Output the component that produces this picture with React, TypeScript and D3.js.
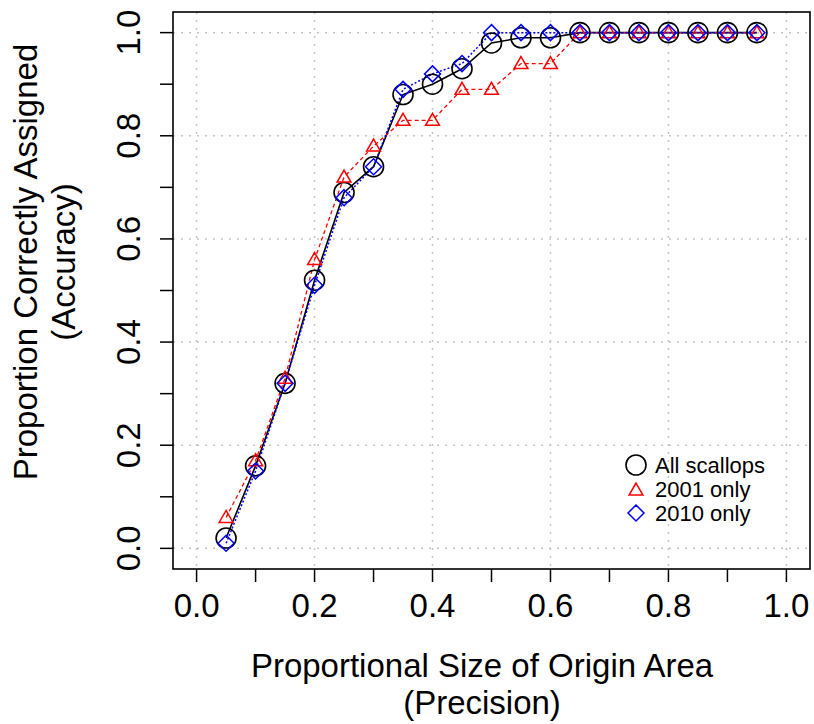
import React from 'react';
import * as d3 from 'd3';

const precision = [0.05, 0.1, 0.15, 0.2, 0.25, 0.3, 0.35, 0.4, 0.45, 0.5, 0.55, 0.6, 0.65, 0.7, 0.75, 0.8, 0.85, 0.9, 0.95];
const allScallops = [0.02, 0.16, 0.32, 0.52, 0.69, 0.74, 0.88, 0.9, 0.93, 0.98, 0.99, 0.99, 1, 1, 1, 1, 1, 1, 1];
const only2001 = [0.06, 0.17, 0.33, 0.56, 0.72, 0.78, 0.83, 0.83, 0.89, 0.89, 0.94, 0.94, 1, 1, 1, 1, 1, 1, 1];
const only2010 = [0.01, 0.15, 0.32, 0.51, 0.68, 0.74, 0.89, 0.92, 0.94, 1, 1, 1, 1, 1, 1, 1, 1, 1, 1];

const tickValues = [0, 0.1, 0.2, 0.3, 0.4, 0.5, 0.6, 0.7, 0.8, 0.9, 1.0];
const labelValues = [0, 0.2, 0.4, 0.6, 0.8, 1.0];
const legendLabels = ['All scallops', '2001 only', '2010 only'];

const FONT = '"Liberation Sans", Arial, Helvetica, sans-serif';

const triPath = (r: number) => {
  const h = (r * Math.sqrt(3)) / 2;
  return `M0,${-r}L${h},${r / 2}L${-h},${r / 2}Z`;
};
const diaPath = (r: number) => `M0,${-r}L${r},0L0,${r}L${-r},0Z`;

export default function App() {
  const W = 814;
  const H = 724;
  const left = 173, right = 810, top = 12, bottom = 569;

  const x = d3.scaleLinear().domain([-0.04, 1.04]).range([left, right]);
  const y = d3.scaleLinear().domain([-0.04, 1.04]).range([bottom, top]);

  const mk = (vals: number[]) =>
    d3.line<number>().x((_, i) => x(precision[i])).y((v) => y(v))(vals) || '';

  const series = [
    { vals: allScallops, color: '#000000', dash: undefined, width: 1.6 },
    { vals: only2001, color: '#ff0000', dash: '4,3', width: 1.3 },
    { vals: only2010, color: '#0000ff', dash: '2,2', width: 1.5 },
  ];

  return (
    <svg width={W} height={H} style={{ position: 'absolute', left: 0, top: 0, background: '#fff' }} fontFamily={FONT}>
      <rect x={0} y={0} width={W} height={H} fill="#fff" />

      {/* grid */}
      {labelValues.map((v) => (
        <g key={'g' + v}>
          <line x1={x(v)} x2={x(v)} y1={top} y2={bottom} stroke="#c4c4c4" strokeWidth={1.5} strokeDasharray="2,6" />
          <line x1={left} x2={right} y1={y(v)} y2={y(v)} stroke="#c4c4c4" strokeWidth={1.5} strokeDasharray="2,6" />
        </g>
      ))}

      {/* lines and points */}
      {series.map((s, k) => (
        <path key={'l' + k} d={mk(s.vals)} fill="none" stroke={s.color} strokeWidth={s.width} strokeDasharray={s.dash} />
      ))}
      {allScallops.map((v, i) => (
        <circle key={'c' + i} cx={x(precision[i])} cy={y(v)} r={10} fill="none" stroke="#000" strokeWidth={1.6} />
      ))}
      {only2001.map((v, i) => (
        <path key={'t' + i} transform={`translate(${x(precision[i])},${y(v) + 1})`} d={triPath(8)} fill="none" stroke="#ff0000" strokeWidth={1.5} />
      ))}
      {only2010.map((v, i) => (
        <path key={'d' + i} transform={`translate(${x(precision[i])},${y(v)})`} d={diaPath(8)} fill="none" stroke="#0000ff" strokeWidth={1.5} />
      ))}

      {/* box */}
      <rect x={left} y={top} width={right - left} height={bottom - top} fill="none" stroke="#000" strokeWidth={1.6} />

      {/* x axis */}
      {tickValues.map((v) => (
        <line key={'xt' + v} x1={x(v)} x2={x(v)} y1={bottom} y2={bottom + 13} stroke="#000" strokeWidth={1.5} />
      ))}
      {labelValues.map((v) => (
        <text key={'xl' + v} x={x(v)} y={617} fontSize={33} textAnchor="middle" fill="#000">
          {d3.format('.1f')(v)}
        </text>
      ))}
      <text x={482} y={677} fontSize={33} textAnchor="middle" fill="#000">Proportional Size of Origin Area</text>
      <text x={482} y={714} fontSize={33} textAnchor="middle" fill="#000">(Precision)</text>

      {/* y axis */}
      {tickValues.map((v) => (
        <line key={'yt' + v} x1={left - 13} x2={left} y1={y(v)} y2={y(v)} stroke="#000" strokeWidth={1.5} />
      ))}
      {labelValues.map((v) => (
        <text key={'yl' + v} transform={`translate(140,${y(v)}) rotate(-90)`} fontSize={33} textAnchor="middle" fill="#000">
          {d3.format('.1f')(v)}
        </text>
      ))}
      <text transform="translate(37,262) rotate(-90)" fontSize={33} textAnchor="middle" fill="#000">Proportion Correctly Assigned</text>
      <text transform="translate(75,262) rotate(-90)" fontSize={33} textAnchor="middle" fill="#000">(Accuracy)</text>

      {/* legend */}
      <g>
        <circle cx={636} cy={465} r={10} fill="none" stroke="#000" strokeWidth={1.6} />
        <path transform="translate(636,491)" d={triPath(8)} fill="none" stroke="#ff0000" strokeWidth={1.5} />
        <path transform="translate(636,513)" d={diaPath(8)} fill="none" stroke="#0000ff" strokeWidth={1.5} />
        {legendLabels.map((l, i) => (
          <text key={l} x={655} y={473 + i * 24} fontSize={22} fill="#000">{l}</text>
        ))}
      </g>
    </svg>
  );
}
